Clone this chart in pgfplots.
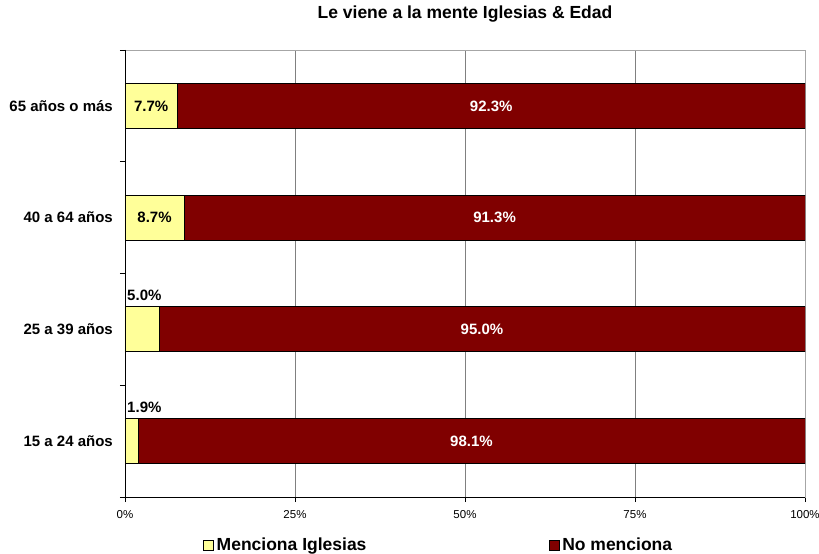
\documentclass[border=0pt]{standalone}
\usepackage{pgfplots}
\pgfplotsset{compat=1.18}
\usepackage{pgfplotstable}
\usepackage{fontspec}
\setmainfont{Liberation Sans}
\definecolor{cyel}{HTML}{FFFF99}
\definecolor{cmar}{HTML}{800000}
\pgfplotstableread{
y m n
0 1.9 98.1
1 5.0 95.0
2 8.7 91.3
3 7.7 92.3
}\datatab
\pgfplotsset{
  base/.style={
    scale only axis,
    width=680pt, height=447pt,
    xmin=0, xmax=100,
    ymin=-0.5, ymax=3.5,
    /pgf/number format/assume math mode=true,
  },
  lab/.style={draw=none, point meta=explicit,
    nodes near coords={\pgfmathprintnumber[fixed,fixed zerofill,precision=1]{\pgfplotspointmeta}\%},
    every node near coord/.append style={font=\fontsize{15}{18}\selectfont\bfseries}},
}
\begin{document}
\begin{tikzpicture}
\begin{axis}[
  base,
  xbar stacked,
  bar width=45pt,
  xtick={0,25,50,75,100},
  xticklabels={0\%,25\%,50\%,75\%,100\%},
  xtick pos=bottom,
  tick align=outside,
  major tick length=5pt,
  minor tick length=5pt,
  ytick={0,1,2,3},
  yticklabels={15 a 24 años,25 a 39 años,40 a 64 años,65 años o más},
  minor ytick={-0.5,0.5,1.5,2.5,3.5},
  ytick pos=left,
  major y tick style={draw=none},
  minor y tick style={black, line width=0.8pt},
  major x tick style={black, line width=0.8pt},
  xmajorgrids,
  grid style={gray, line width=0.8pt},
  axis line style={draw=gray!70, line width=0.8pt},
  xticklabel style={anchor=north, inner sep=0pt, yshift=-8pt, font=\fontsize{11.5}{14}\selectfont},
  yticklabel style={anchor=east, inner sep=0pt, xshift=-7pt, font=\fontsize{15}{18}\selectfont\bfseries},
  title={Le viene a la mente Iglesias \& Edad},
  title style={at={(0.5,1)}, anchor=center, yshift=30pt, font=\fontsize{17.5}{20}\selectfont\bfseries},
  legend columns=2,
  legend style={at={(0.4618,0)}, anchor=center, yshift=-48pt, draw=none, fill=none,
    font=\fontsize{17.5}{20}\selectfont\bfseries,
    /tikz/every even column/.append style={column sep=180pt},
    nodes={inner xsep=2.5pt, inner ysep=0pt}},
  legend cell align=left,
  legend image code/.code={\draw[#1, draw=black, line width=0.8pt] (0pt,-5pt) rectangle (10pt,5pt);},
]
\addplot[fill=cyel, draw=black, line width=0.8pt] table[x=m, y=y] {\datatab};
\addlegendentry{Menciona Iglesias}
\addplot[fill=cmar, draw=black, line width=0.8pt] table[x=n, y=y] {\datatab};
\addlegendentry{No menciona}
\draw[black, line width=0.8pt] (rel axis cs:0,1) -- (rel axis cs:0,0) -- (rel axis cs:1,0);
\end{axis}
\begin{axis}[base, hide axis]
% yellow labels inside the bar (40-64, 65+)
\addplot[lab, skip coords between index={0}{2},
  every node near coord/.append style={anchor=center, black}]
  table[x expr=\thisrow{m}/2, y=y, meta=m] {\datatab};
% yellow labels above the bar (15-24, 25-39)
\addplot[lab, skip coords between index={2}{4},
  every node near coord/.append style={anchor=west, inner sep=0pt, black}]
  table[x expr=0.3, y expr=\thisrow{y}+0.305, meta=m] {\datatab};
% maroon labels
\addplot[lab, every node near coord/.append style={anchor=center, white}]
  table[x expr=\thisrow{m}+\thisrow{n}/2, y=y, meta=n] {\datatab};
\end{axis}
\pgfresetboundingbox
\path[use as bounding box] (-125pt,-57pt) rectangle (694pt,497pt);
\end{tikzpicture}
\end{document}
